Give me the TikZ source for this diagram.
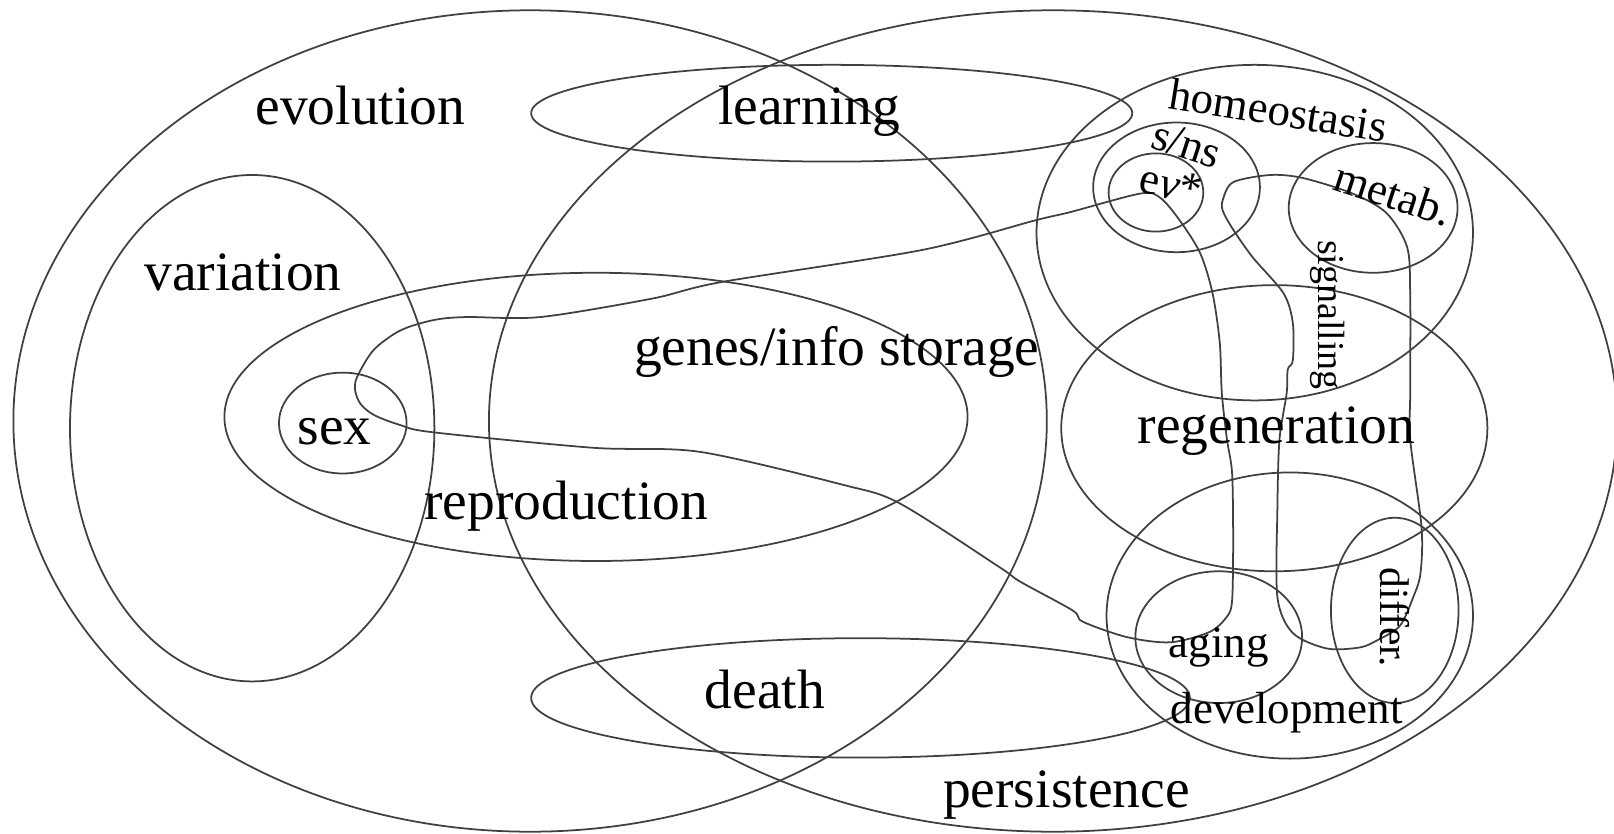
\documentclass[tikz,border=0pt]{standalone}
\usepackage{fontspec}
\setmainfont{Liberation Serif}
\begin{document}
\begin{tikzpicture}[x=0.010293cm, y=-0.010293cm, line width=0.5pt,
  every node/.style={inner sep=0pt},
  ring/.style={draw=black!75},
  big/.style={font=\fontsize{15.8}{18}\selectfont, anchor=base},
  small/.style={font=\fontsize{12.8}{15}\selectfont},
  tiny/.style={font=\fontsize{10.8}{13}\selectfont}]
\useasboundingbox (0,0) rectangle (1568,810);

% the sets
\draw[ring] (515,409) ellipse [x radius=502, y radius=399];
\draw[ring] (1023,409) ellipse [x radius=548, y radius=399];
\draw[ring] (808,110) ellipse [x radius=292, y radius=47];
\draw[ring] (245,416) ellipse [x radius=177, y radius=246];
\draw[ring] (333,411) ellipse [x radius=62, y radius=49];
\draw[ring] (579,405) ellipse [x radius=361, y radius=140];
\draw[ring] (836,678) ellipse [x radius=320, y radius=58];
\draw[ring] (1219,226) ellipse [x radius=212, y radius=163];
\draw[ring] (1143,182) ellipse [x radius=81, y radius=63];
\draw[ring] (1123,187) ellipse [x radius=46, y radius=38];
\draw[ring] (1334,202) ellipse [x radius=82, y radius=63];
\draw[ring] (1238,416) ellipse [x radius=207, y radius=139];
\draw[ring] (1253,598) ellipse [x radius=178, y radius=139];
\draw[ring] (1184,619) ellipse [x radius=81, y radius=64];
\draw[ring] (1355,593) ellipse [x radius=62, y radius=90];

% freehand loops
\draw[ring] plot[smooth cycle, tension=0.5] coordinates {
  (1108,188) (1127,192) (1146,214) (1166,246) (1178,285) (1185,333)
  (1187,382) (1192,427) (1197,460) (1198,525) (1197,583) (1192,599)
  (1175,614) (1137,624) (1095,619) (1052,604) (1042,593) (991,565)
  (971,551) (874,489) (819,471) (680,439) (576,435) (421,420)
  (389,413) (363,403) (350,392) (345,379) (347,366) (363,340)
  (389,321) (421,311) (453,308) (525,308) (634,290) (701,274)
  (895,243) (1006,214) (1040,206)};
\draw[ring] plot[smooth cycle, tension=0.5] coordinates {
  (1188,194) (1198,177) (1234,170) (1266,173) (1314,188) (1347,207)
  (1367,240) (1370,285) (1370,382) (1370,427) (1381,512) (1380,557)
  (1373,580) (1360,608) (1338,622) (1321,629) (1289,630) (1256,615)
  (1241,580) (1241,493) (1243,427) (1250,382) (1251,359) (1256,350)
  (1256,314) (1247,285) (1217,250) (1198,223) (1188,205)};

% labels
\node[big] (evo) at (350,121) {evolution};
\node[big] (learn) at (786,121) {learning};
\node[big] (vari) at (236,282) {variation};
\node[big] (genes) at (813,355) {genes/info storage};
\node[big] (sex) at (325,432) {sex};
\node[big] (repro) at (550,505) {reproduction};
\node[big] (regen) at (1240,431) {regeneration};
\node[big] (death) at (743,688) {death};
\node[big] (pers) at (1036,784) {persistence};
\node[small, anchor=base] (devel) at (1250,703) {development};
\node[small, anchor=base] (aging) at (1184,639) {aging};
\node[small, rotate=-9] (homeo) at (1242,107) {homeostasis};
\node[small, rotate=-18] (sns) at (1153,140) {s/ns};
\node[small, rotate=-12] (evstar) at (1138,179) {e\textit{v}*};
\node[small, rotate=-18] (metab) at (1354,188) {metab.};
\node[tiny, rotate=-90] (signal) at (1290,306) {signalling};
\node[tiny, rotate=-90, font=\fontsize{11.8}{14}\selectfont] (differ) at (1355,600) {differ.};
\end{tikzpicture}
\end{document}
